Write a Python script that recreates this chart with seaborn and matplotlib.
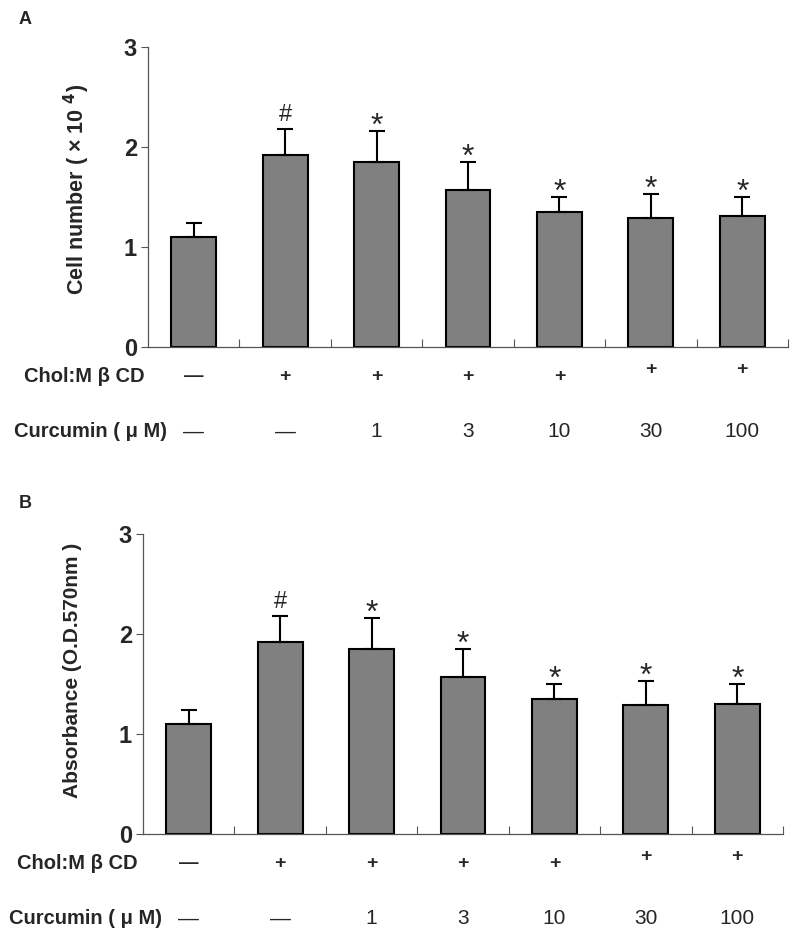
import numpy as np
import pandas as pd
import matplotlib
matplotlib.use("Agg")
import matplotlib.pyplot as plt
import matplotlib.transforms as mtransforms
import seaborn as sns

sns.set_style("white")
plt.rcParams['font.family'] = ['Liberation Sans', 'DejaVu Sans']

# ---- data ----
groups = ["G1", "G2", "G3", "G4", "G5", "G6", "G7"]
chol_labels = ["—", "+", "+", "+", "+", "+", "+"]
curcumin_labels = ["—", "—", "1", "3", "10", "30", "100"]
signif = ["", "#", "*", "*", "*", "*", "*"]

cell_mean = [1.10, 1.92, 1.85, 1.57, 1.35, 1.29, 1.31]
cell_sd = [0.14, 0.26, 0.31, 0.28, 0.15, 0.24, 0.19]

abs_mean = [1.10, 1.92, 1.85, 1.57, 1.35, 1.29, 1.30]
abs_sd = [0.14, 0.26, 0.31, 0.28, 0.15, 0.24, 0.20]

W, H = 800, 951
fig = plt.figure(figsize=(W / 100, H / 100), dpi=100)


def panel(left_px, top_px, means, sds, ylabel, ylabel_size, letter, letter_xy,
          label_x_px, label_y_px, chol_right, cur_right):
    ax = fig.add_axes([left_px / W, 1 - (top_px + 300) / H, 640 / W, 300 / H])
    df = pd.DataFrame({"group": groups, "value": means})
    sns.barplot(data=df, x="group", y="value", order=groups, color="#808080",
                edgecolor="black", linewidth=1.5, width=0.49, errorbar=None,
                saturation=1, ax=ax)
    xs = np.arange(len(groups))
    ax.errorbar(xs, means, yerr=[np.zeros(len(sds)), sds], fmt="none",
                ecolor="black", elinewidth=1.5, capsize=5.5, capthick=1.5, zorder=1)
    for x, m, s, sym in zip(xs, means, sds, signif):
        if sym:
            if sym == "*":
                ax.annotate(sym, (x, m + s), xytext=(0, -8), textcoords="offset points",
                            ha="center", va="bottom", fontsize=23)
            else:
                ax.annotate(sym, (x, m + s), xytext=(0, 2), textcoords="offset points",
                            ha="center", va="bottom", fontsize=17)
    ax.set_xlim(-0.5, 6.5)
    ax.set_ylim(0, 3)
    ax.set_yticks([0, 1, 2, 3])
    ax.set_yticklabels(["0", "1", "2", "3"], fontsize=17, fontweight="bold")
    ax.set_xticks([])
    ax.set_xticks(np.arange(0.5, 7, 1), minor=True)
    ax.tick_params(axis="x", which="minor", direction="in", length=6, width=0.8,
                   color="#555555", bottom=True)
    ax.tick_params(axis="y", direction="out", length=5, width=0.8, color="#555555",
                   left=True, pad=3)
    ax.set_xlabel("")
    ax.set_ylabel("")
    for sp in ["top", "right"]:
        ax.spines[sp].set_visible(False)
    for sp in ["left", "bottom"]:
        ax.spines[sp].set_color("#555555")
        ax.spines[sp].set_linewidth(0.9)

    # y label
    fig.text(label_x_px / W, 1 - label_y_px / H, ylabel, rotation=90,
             ha="center", va="center", fontsize=ylabel_size, fontweight="bold")
    # panel letter
    fig.text(letter_xy[0] / W, 1 - letter_xy[1] / H, letter, ha="center",
             va="center", fontsize=13, fontweight="bold")

    trans = mtransforms.blended_transform_factory(ax.transData, ax.transAxes)
    for x, c, cu in zip(xs, chol_labels, curcumin_labels):
        yoff = -0.075 if x >= 5 else -0.098
        ax.text(x, yoff, c, transform=trans, ha="center", va="center",
                fontsize=14, fontweight="bold")
        ax.text(x, -0.283, cu, transform=trans, ha="center", va="center",
                fontsize=15)
    ax.text(chol_right, -0.098, "Chol:M β CD", transform=ax.transAxes,
            ha="right", va="center", fontsize=14.5, fontweight="bold")
    ax.text(cur_right, -0.283, "Curcumin ( μ M)", transform=ax.transAxes,
            ha="right", va="center", fontsize=14.5, fontweight="bold")
    return ax


panel(148, 47, cell_mean, cell_sd, "Cell number ( × 10 $^{\\mathbf{4}}$)", 15.5, "A",
      (25, 19), 77, 189, -0.006, 0.03)
panel(143, 534, abs_mean, abs_sd, "Absorbance (O.D.570nm )", 15, "B",
      (25, 503), 72, 670, -0.008, 0.03)

fig.savefig("out.png", dpi=100, facecolor="white")
